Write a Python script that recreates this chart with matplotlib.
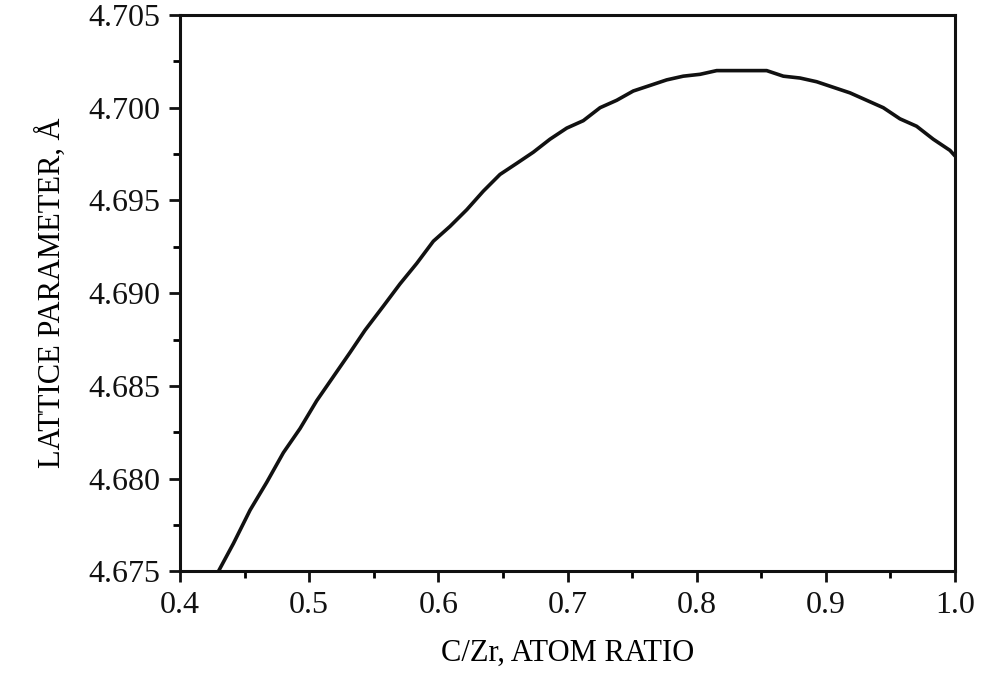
import numpy as np
import matplotlib
matplotlib.use("Agg")
import matplotlib.pyplot as plt
from matplotlib.ticker import MultipleLocator, FormatStrFormatter

# values
ratio = [0.4297, 0.4413, 0.4542, 0.4671, 0.4800, 0.4929, 0.5058, 0.5187,
         0.5316, 0.5432, 0.5574, 0.5703, 0.5832, 0.5961, 0.6090, 0.6220,
         0.6348, 0.6477, 0.6607, 0.6735, 0.6864, 0.6994, 0.7122, 0.7252,
         0.7381, 0.7509, 0.7639, 0.7768, 0.7896, 0.8026, 0.8155, 0.8542,
         0.8671, 0.8800, 0.8929, 0.9058, 0.9187, 0.9316, 0.9445, 0.9574,
         0.9703, 0.9832, 0.9961, 1.0000]
lattice = [4.6750, 4.6765, 4.6783, 4.6798, 4.6814, 4.6827, 4.6842, 4.6855,
           4.6868, 4.6880, 4.6893, 4.6905, 4.6916, 4.6928, 4.6936, 4.6945,
           4.6955, 4.6964, 4.6970, 4.6976, 4.6983, 4.6989, 4.6993, 4.7000,
           4.7004, 4.7009, 4.7012, 4.7015, 4.7017, 4.7018, 4.7020, 4.7020,
           4.7017, 4.7016, 4.7014, 4.7011, 4.7008, 4.7004, 4.7000, 4.6994,
           4.6990, 4.6983, 4.6977, 4.6974]

plt.rcParams['font.family'] = ['Liberation Serif', 'DejaVu Serif']

fig = plt.figure(figsize=(9.84, 6.9), dpi=100)
ax = fig.add_axes([0.183, 0.172, 0.7875, 0.8063])

ax.plot(ratio, lattice, color='#111111', lw=2.6, solid_capstyle='round',
        solid_joinstyle='round')

ax.set_xlim(0.4, 1.0)
ax.set_ylim(4.675, 4.705)
ax.xaxis.set_major_locator(MultipleLocator(0.1))
ax.xaxis.set_minor_locator(MultipleLocator(0.05))
ax.yaxis.set_major_locator(MultipleLocator(0.005))
ax.yaxis.set_minor_locator(MultipleLocator(0.0025))
ax.xaxis.set_major_formatter(FormatStrFormatter('%.1f'))
ax.yaxis.set_major_formatter(FormatStrFormatter('%.3f'))

for s in ax.spines.values():
    s.set_linewidth(2.2)
    s.set_color('#111111')
ax.tick_params(which='major', direction='out', length=8, width=2, labelsize=23,
               colors='#111111', pad=6, top=False, right=False)
ax.tick_params(which='minor', direction='out', length=5, width=2,
               top=False, right=False)

ax.set_xlabel('C/Zr, ATOM RATIO', fontsize=22, labelpad=14)
ax.set_ylabel('LATTICE PARAMETER, Å', fontsize=22, labelpad=16)

fig.savefig('out.png', dpi=100)
